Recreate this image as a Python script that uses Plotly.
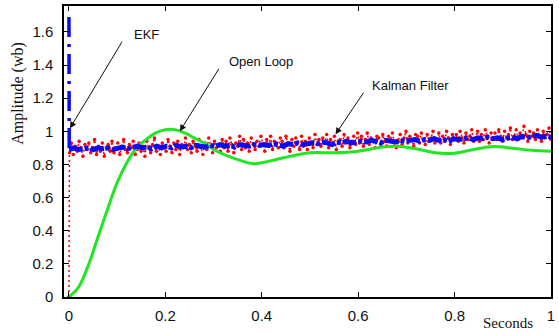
import numpy as np
import plotly.graph_objects as go

# ---------------- data ----------------
x_ticks = [0, 0.2, 0.4, 0.6, 0.8, 1.0]
x_tick_labels = ["0", "0.2", "0.4", "0.6", "0.8", "1"]
y_ticks = [0, 0.2, 0.4, 0.6, 0.8, 1.0, 1.2, 1.4, 1.6]
y_tick_labels = ["0", "0.2", "0.4", "0.6", "0.8", "1", "1.2", "1.4", "1.6"]

# Open loop response (green)
open_t = [0, 0.02, 0.04, 0.06, 0.08, 0.10, 0.12, 0.14, 0.16, 0.18, 0.20, 0.22,
          0.24, 0.26, 0.28, 0.30, 0.33, 0.36, 0.38, 0.40, 0.43, 0.46, 0.50,
          0.55, 0.60, 0.65, 0.68, 0.72, 0.76, 0.80, 0.84, 0.88, 0.92, 0.96, 1.0]
open_y = [0, 0.06, 0.19, 0.36, 0.53, 0.69, 0.81, 0.90, 0.95, 0.99, 1.01, 1.01,
          0.99, 0.96, 0.93, 0.89, 0.85, 0.82, 0.805, 0.81, 0.83, 0.85, 0.87,
          0.87, 0.88, 0.905, 0.91, 0.895, 0.87, 0.868, 0.89, 0.908, 0.898, 0.885, 0.88]

# Noisy measurements (red dotted), starting from 0 at t = 0
meas_y = [
    0.0,
    0.87, 0.93, 0.86, 0.91, 0.88, 0.94, 0.90, 0.85, 0.92, 0.89,
    0.93, 0.87, 0.90, 0.95, 0.86, 0.91, 0.88, 0.93, 0.85, 0.90,
    0.92, 0.88, 0.94, 0.87, 0.90, 0.93, 0.86, 0.91, 0.95, 0.89,
    0.87, 0.92, 0.90, 0.94, 0.86, 0.89, 0.93, 0.88, 0.91, 0.85,
    0.94, 0.90, 0.87, 0.92, 0.96, 0.88, 0.91, 0.86, 0.93, 0.90,
    0.88, 0.95, 0.91, 0.87, 0.93, 0.89, 0.94, 0.86, 0.92, 0.90,
    0.96, 0.89, 0.92, 0.87, 0.94, 0.91, 0.88, 0.95, 0.90, 0.86,
    0.93, 0.89, 0.96, 0.91, 0.87, 0.94, 0.90, 0.92, 0.88, 0.95,
    0.90, 0.94, 0.88, 0.96, 0.92, 0.87, 0.93, 0.91, 0.97, 0.89,
    0.95, 0.90, 0.93, 0.88, 0.96, 0.92, 0.89, 0.94, 0.91, 0.97,
    0.92, 0.88, 0.95, 0.91, 0.97, 0.89, 0.94, 0.93, 0.90, 0.96,
    0.94, 0.90, 0.97, 0.92, 0.88, 0.95, 0.91, 0.96, 0.93, 0.89,
    0.97, 0.91, 0.94, 0.89, 0.96, 0.93, 0.90, 0.98, 0.92, 0.95,
    0.91, 0.96, 0.93, 0.98, 0.90, 0.95, 0.92, 0.97, 0.89, 0.94,
    0.95, 0.91, 0.98, 0.93, 0.96, 0.90, 0.94, 0.97, 0.92, 0.99,
    0.93, 0.97, 0.91, 0.95, 0.99, 0.92, 0.96, 0.94, 0.90, 0.97,
    0.96, 0.92, 0.98, 0.94, 0.91, 0.97, 0.95, 0.99, 0.93, 0.90,
    0.94, 0.98, 0.92, 0.96, 1.00, 0.93, 0.97, 0.95, 0.91, 0.98,
    0.97, 0.93, 0.99, 0.95, 0.92, 0.98, 0.94, 0.96, 1.00, 0.93,
    0.95, 0.99, 0.93, 0.97, 0.94, 1.00, 0.96, 0.92, 0.98, 0.95,
    0.98, 0.94, 1.00, 0.96, 0.93, 0.99, 0.95, 0.97, 1.01, 0.94,
    0.96, 1.00, 0.94, 0.98, 0.95, 1.01, 0.97, 0.93, 0.99, 0.96,
    0.99, 0.95, 1.01, 0.97, 0.94, 1.00, 0.96, 0.98, 1.02, 0.95,
    0.97, 1.01, 0.95, 0.99, 0.96, 1.03, 0.98, 0.94, 1.00, 0.97,
    0.99, 0.95, 1.01, 0.97, 0.94, 1.00, 0.96, 0.98, 1.02, 0.95,
]
meas_t = [0.0] + list(np.linspace(0.001, 1.0, len(meas_y) - 1))

# Kalman filter / EKF estimate (blue), first sample is the initial guess
kf_y = [
    1.69,
    0.89, 0.90, 0.89, 0.895, 0.90, 0.89, 0.90, 0.895, 0.90, 0.89,
    0.90, 0.905, 0.895, 0.90, 0.91, 0.90, 0.905, 0.895, 0.91, 0.90,
    0.91, 0.90, 0.915, 0.905, 0.91, 0.90, 0.915, 0.91, 0.905, 0.915,
    0.91, 0.92, 0.91, 0.915, 0.905, 0.92, 0.915, 0.91, 0.92, 0.915,
    0.92, 0.915, 0.925, 0.92, 0.91, 0.925, 0.92, 0.93, 0.92, 0.925,
    0.93, 0.925, 0.935, 0.93, 0.92, 0.935, 0.93, 0.94, 0.93, 0.935,
    0.94, 0.935, 0.945, 0.94, 0.93, 0.945, 0.94, 0.935, 0.945, 0.94,
    0.945, 0.95, 0.94, 0.95, 0.945, 0.955, 0.945, 0.95, 0.94, 0.955,
    0.95, 0.955, 0.96, 0.95, 0.96, 0.955, 0.965, 0.955, 0.96, 0.95,
    0.96, 0.965, 0.955, 0.97, 0.96, 0.965, 0.975, 0.965, 0.97, 0.965,
]
kf_t = [0.0] + list(np.linspace(0.0005, 1.0, len(kf_y) - 1))

# annotation labels
labels = ["EKF", "Open Loop", "Kalman Filter"]
label_x = [0.1615, 0.398, 0.709]
label_y = [1.582, 1.42, 1.276]
arrow_x = [0.002, 0.230, 0.553]
arrow_y = [1.018, 1.0, 0.982]
arrow_ax = [53, 40, 29]
arrow_ay = [-88, -64, -43]

# ---------------- figure ----------------
fig = go.Figure()

fig.add_trace(go.Scatter(
    x=meas_t, y=meas_y, mode="lines+markers",
    line=dict(color="#ff0000", width=1.5, dash="2px,3px"),
    marker=dict(color="#ff0000", size=3.5, line=dict(width=0)),
    showlegend=False))

fig.add_trace(go.Scatter(
    x=open_t, y=open_y, mode="lines", line_shape="spline",
    line=dict(color="#22e622", width=3),
    showlegend=False))

# initial drop of the estimate (dash-dot)
fig.add_trace(go.Scatter(
    x=kf_t[:2], y=kf_y[:2], mode="lines",
    line=dict(color="#0a0af5", width=3.5, dash="20px,7px,3px,7px"),
    showlegend=False))
# tracking part
fig.add_trace(go.Scatter(
    x=kf_t[1:], y=kf_y[1:], mode="lines",
    line=dict(color="#0a0af5", width=5, dash="14px,2px,4px,2px"),
    showlegend=False))

for i, t in enumerate(labels):
    fig.add_annotation(x=label_x[i], y=label_y[i], xref="x", yref="y",
                       text=t, showarrow=False,
                       font=dict(family="Liberation Sans, Arial", size=13, color="#111"))
    fig.add_annotation(x=arrow_x[i], y=arrow_y[i], xref="x", yref="y",
                       text="", showarrow=True, ax=arrow_ax[i], ay=arrow_ay[i],
                       arrowhead=2, arrowsize=1.3, arrowwidth=1, arrowcolor="#111")

fig.add_annotation(x=(512 - 64) / 491, y=(296.7 - 323) / 292.7, xref="paper", yref="paper",
                   text="Seconds", showarrow=False, xanchor="center", yanchor="middle",
                   font=dict(family="Liberation Serif, Times New Roman", size=15, color="#111"))
fig.add_annotation(x=(18 - 64) / 491, y=(296.7 - 92) / 292.7, xref="paper", yref="paper",
                   text="Amplitude (wb)", textangle=-90, showarrow=False,
                   xanchor="center", yanchor="middle",
                   font=dict(family="Liberation Serif, Times New Roman", size=16, color="#111"))

axis_common = dict(showline=True, linecolor="black", linewidth=1.5,
                   mirror="allticks", ticks="inside", ticklen=5,
                   tickcolor="black", tickwidth=1, showgrid=False, zeroline=False,
                   tickfont=dict(family="Liberation Sans, Arial", size=15, color="#111"))

fig.update_xaxes(range=[-0.0103, 1.0], tickvals=x_ticks, ticktext=x_tick_labels,
                 ticklabelstandoff=4, **axis_common)
fig.update_yaxes(range=[0, 1.756], tickvals=y_ticks, ticktext=y_tick_labels,
                 ticklabelstandoff=6, **axis_common)

fig.update_layout(
    width=559, height=336,
    margin=dict(l=64, r=4, t=4, b=39),
    plot_bgcolor="white", paper_bgcolor="white",
    showlegend=False,
)

fig.write_html("out.html", config={"displayModeBar": False},
               post_script="document.body.style.margin='0';document.body.style.padding='0';")
